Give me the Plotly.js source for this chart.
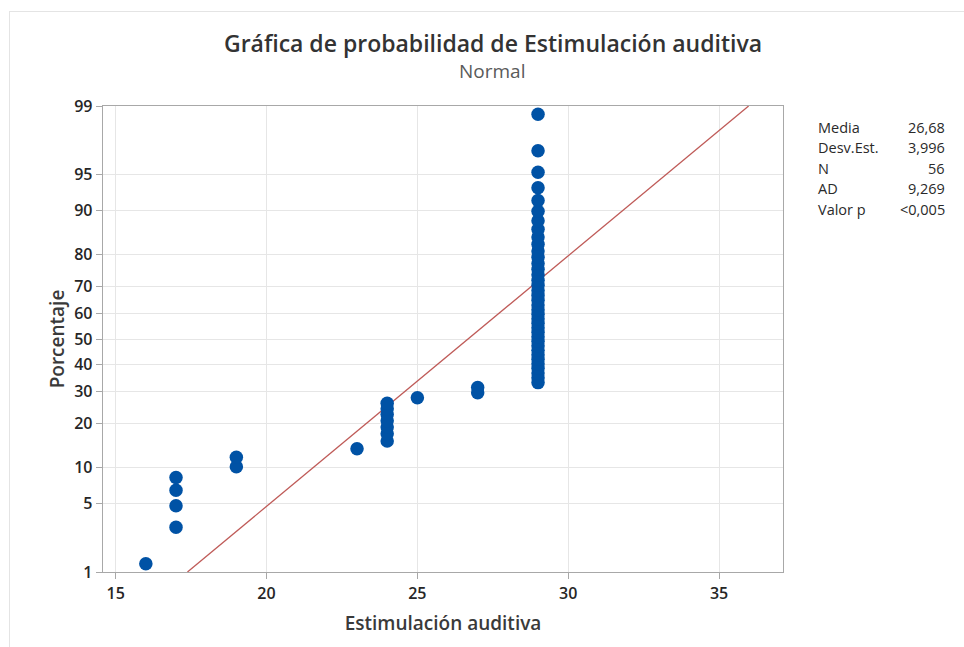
<!DOCTYPE html>
<html>
<head>
<meta charset="utf-8">
<script src="https://cdn.plot.ly/plotly-3.0.1.min.js"></script>
<style>
html,body{margin:0;padding:0;background:#fff;}
#wrap{position:relative;width:964px;height:647px;}
#chart{position:absolute;left:0;top:0;width:964px;height:647px;}
#frame{position:absolute;left:9px;top:11px;right:0;bottom:0;border-left:1px solid #e4e4e4;border-top:1px solid #e4e4e4;pointer-events:none;}
</style>
</head>
<body>
<div id="wrap"><div id="chart"></div><div id="frame"></div></div>
<script>
// Observations (Estimulación auditiva), sorted
const values = [16,
  17, 17, 17, 17,
  19, 19,
  23,
  24, 24, 24, 24, 24, 24, 24,
  25,
  27, 27,
  29, 29, 29, 29, 29, 29, 29, 29, 29, 29, 29, 29, 29, 29, 29, 29, 29, 29, 29,
  29, 29, 29, 29, 29, 29, 29, 29, 29, 29, 29, 29, 29, 29, 29, 29, 29, 29, 29];
// Plotted percentages (probability positions)
const percents = [1.24,
  3.01, 4.79, 6.56, 8.33,
  10.11, 11.88,
  13.65,
  15.43, 17.20, 18.97, 20.74, 22.52, 24.29, 26.06,
  27.84,
  29.61, 31.38,
  33.16, 34.93, 36.70, 38.48, 40.25, 42.02, 43.79, 45.57, 47.34, 49.11, 50.89,
  52.66, 54.43, 56.21, 57.98, 59.75, 61.52, 63.30, 65.07, 66.84, 68.62, 70.39,
  72.16, 73.94, 75.71, 77.48, 79.26, 81.03, 82.80, 84.57, 86.35, 88.12, 89.89,
  91.67, 93.44, 95.21, 96.99, 98.76];
// Fitted normal line (end points)
const fitX = [17.38, 35.98];
const fitP = [1, 99];
// Axis ticks
const xTicks = [15, 20, 25, 30, 35];
const yTickPercents = [1, 5, 10, 20, 30, 40, 50, 60, 70, 80, 90, 95, 99];
// Statistics table
const statsLabels = ["Media", "Desv.Est.", "N", "AD", "Valor p"];
const statsValues = ["26,68", "3,996", "56", "9,269", "<0,005"];

// Inverse standard normal CDF (probability scale of the y axis)
function probit(p) {
  const a = [-3.969683028665376e+01, 2.209460984245205e+02, -2.759285104469687e+02, 1.383577518672690e+02, -3.066479806614716e+01, 2.506628277459239e+00];
  const b = [-5.447609879822406e+01, 1.615858368580409e+02, -1.556989798598866e+02, 6.680131188771972e+01, -1.328068155288572e+01];
  const c = [-7.784894002430293e-03, -3.223964580411365e-01, -2.400758277161838e+00, -2.549732539343734e+00, 4.374664141464968e+00, 2.938163982698783e+00];
  const d = [7.784695709041462e-03, 3.224671290700398e-01, 2.445134137142996e+00, 3.754408661907416e+00];
  const pl = 0.02425, ph = 1 - pl;
  let q, r;
  if (p < pl) {
    q = Math.sqrt(-2 * Math.log(p));
    return (((((c[0]*q+c[1])*q+c[2])*q+c[3])*q+c[4])*q+c[5]) / ((((d[0]*q+d[1])*q+d[2])*q+d[3])*q+1);
  } else if (p <= ph) {
    q = p - 0.5; r = q * q;
    return (((((a[0]*r+a[1])*r+a[2])*r+a[3])*r+a[4])*r+a[5])*q / (((((b[0]*r+b[1])*r+b[2])*r+b[3])*r+b[4])*r+1);
  } else {
    q = Math.sqrt(-2 * Math.log(1 - p));
    return -(((((c[0]*q+c[1])*q+c[2])*q+c[3])*q+c[4])*q+c[5]) / ((((d[0]*q+d[1])*q+d[2])*q+d[3])*q+1);
  }
}
const z = p => probit(p / 100);

const FONT = "'Open Sans', 'Noto Sans', sans-serif";

const traces = [
  {
    x: fitX, y: fitP.map(z), type: 'scatter', mode: 'lines',
    line: {color: '#bf5b58', width: 1.3}, hoverinfo: 'skip', showlegend: false
  },
  {
    x: values, y: percents.map(z), type: 'scatter', mode: 'markers',
    marker: {color: '#0052a5', size: 13.5}, showlegend: false
  }
];

const W = 964, H = 647, L = 103, R = 181, T = 106, B = 75;
const pw = W - L - R, ph = H - T - B;
const rowY = [127, 147.5, 168, 188.5, 209];
const annotations = [];
statsLabels.forEach((lab, i) => {
  annotations.push({xref: 'paper', yref: 'paper', x: (816 - L) / pw, y: 1 - (rowY[i] - T) / ph,
    xanchor: 'left', yanchor: 'middle', showarrow: false, text: lab,
    font: {family: FONT, size: 14.5, color: '#2a2a2a'}});
  annotations.push({xref: 'paper', yref: 'paper', x: (947 - L) / pw, y: 1 - (rowY[i] - T) / ph,
    xanchor: 'right', yanchor: 'middle', showarrow: false, text: statsValues[i],
    font: {family: FONT, size: 14.5, color: '#2a2a2a'}});
});
// subtitle
annotations.push({xref: 'paper', yref: 'paper', x: (492 - L) / pw, y: 1 - (71 - T) / ph,
  xanchor: 'center', yanchor: 'middle', showarrow: false, text: 'Normal',
  font: {family: FONT, size: 19, color: '#5a5a5a'}});

const layout = {
  width: W, height: H,
  margin: {l: L, r: R, t: T, b: B, pad: 0},
  paper_bgcolor: '#ffffff', plot_bgcolor: '#ffffff',
  font: {family: FONT, color: '#333333'},
  title: {text: 'Gráfica de probabilidad de Estimulación auditiva',
    font: {family: FONT, size: 23, color: '#333333', weight: 600},
    x: (493 / W), xanchor: 'center', y: 1 - 44 / H, yanchor: 'middle'},
  xaxis: {
    range: [14.58, 37.12], tickvals: xTicks, ticktext: xTicks.map(String),
    showgrid: true, gridcolor: '#e6e6e6', gridwidth: 1,
    zeroline: false, showline: true, linecolor: '#a8a8a8', linewidth: 1.3, mirror: true,
    ticks: 'outside', ticklen: 6, tickcolor: '#a8a8a8', tickwidth: 1,
    tickfont: {family: FONT, size: 16, color: '#262626', weight: 600},
    title: {text: 'Estimulación auditiva', font: {family: FONT, size: 19, color: '#3a3a3a', weight: 600}, standoff: 14}
  },
  yaxis: {
    range: [z(1), z(99)], tickvals: yTickPercents.map(z), ticktext: yTickPercents.map(String),
    showgrid: true, gridcolor: '#e6e6e6', gridwidth: 1,
    zeroline: false, showline: true, linecolor: '#a8a8a8', linewidth: 1.3, mirror: true,
    ticks: 'outside', ticklen: 6, tickcolor: '#a8a8a8', tickwidth: 1,
    tickfont: {family: FONT, size: 16, color: '#262626', weight: 600},
    title: {text: 'Porcentaje', font: {family: FONT, size: 19, color: '#3a3a3a', weight: 600}, standoff: 4}
  },
  annotations: annotations
};

Plotly.newPlot('chart', traces, layout, {displayModeBar: false, staticPlot: true});
</script>
</body>
</html>
